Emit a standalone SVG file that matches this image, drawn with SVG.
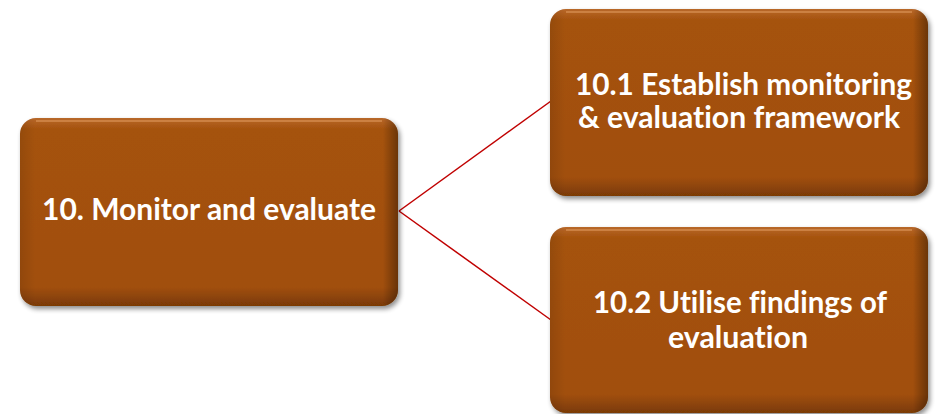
<svg xmlns="http://www.w3.org/2000/svg" width="935" height="414" viewBox="0 0 935 414">
<defs>
<linearGradient id="fillV" x1="0" y1="0" x2="0" y2="1">
<stop offset="0" stop-color="#b8682a"/>
<stop offset="0.06" stop-color="#a5520d"/>
<stop offset="0.9" stop-color="#a14f0b"/>
<stop offset="1" stop-color="#7a3a06"/>
</linearGradient>
<linearGradient id="edgeH" x1="0" y1="0" x2="1" y2="0">
<stop offset="0" stop-color="#000" stop-opacity="0.1"/>
<stop offset="0.04" stop-color="#000" stop-opacity="0"/>
<stop offset="0.96" stop-color="#000" stop-opacity="0"/>
<stop offset="1" stop-color="#000" stop-opacity="0.35"/>
</linearGradient>
<filter id="shadow" x="-5%" y="-5%" width="115%" height="120%">
<feGaussianBlur in="SourceAlpha" stdDeviation="2.5"/>
<feOffset dx="2" dy="3" result="b"/>
<feComponentTransfer><feFuncA type="linear" slope="0.45"/></feComponentTransfer>
<feMerge><feMergeNode/><feMergeNode in="SourceGraphic"/></feMerge>
</filter>
</defs>
<style>
.body{fill:url(#fillV);filter:url(#shadow);}
.side{fill:url(#edgeH);}
.hi{fill:none;stroke:#e09a5c;stroke-opacity:0.55;stroke-width:2;}
.lbl{font-family:Lato,"Open Sans","Liberation Sans",sans-serif;font-weight:bold;font-size:30px;fill:#ffffff;font-variant-ligatures:none;font-feature-settings:"liga" 0;}
.conn{stroke:#c00000;stroke-width:1.5;fill:none;}
</style>
<rect width="935" height="414" fill="#ffffff"/>
<g id="connectors">
<line class="conn" x1="399" y1="211" x2="551" y2="101"/>
<line class="conn" x1="399" y1="211" x2="551" y2="320"/>
</g>
<g id="node-10">
<rect class="body" x="20" y="118" width="378" height="188" rx="16"/>
<rect class="side" x="20" y="118" width="378" height="188" rx="16"/>
<path class="hi" d="M36,121 H382"/>
<text class="lbl" x="209" y="220" text-anchor="middle" textLength="334" lengthAdjust="spacingAndGlyphs">10. Monitor and evaluate</text>
</g>
<g id="node-10-1">
<rect class="body" x="550" y="9" width="378" height="187" rx="16"/>
<rect class="side" x="550" y="9" width="378" height="187" rx="16"/>
<path class="hi" d="M566,12 H912"/>
<text class="lbl" x="743.5" y="95" text-anchor="middle" textLength="337" lengthAdjust="spacingAndGlyphs">10.1 Establish monitoring</text>
<text class="lbl" x="739" y="128" text-anchor="middle" textLength="322" lengthAdjust="spacingAndGlyphs">&amp; evaluation framework</text>
</g>
<g id="node-10-2">
<rect class="body" x="550" y="227" width="378" height="186" rx="16"/>
<rect class="side" x="550" y="227" width="378" height="186" rx="16"/>
<path class="hi" d="M566,230 H912"/>
<text class="lbl" x="740" y="313" text-anchor="middle" textLength="294" lengthAdjust="spacingAndGlyphs">10.2 Utilise findings of</text>
<text class="lbl" x="738" y="348" text-anchor="middle" textLength="140" lengthAdjust="spacingAndGlyphs">evaluation</text>
</g>
</svg>
